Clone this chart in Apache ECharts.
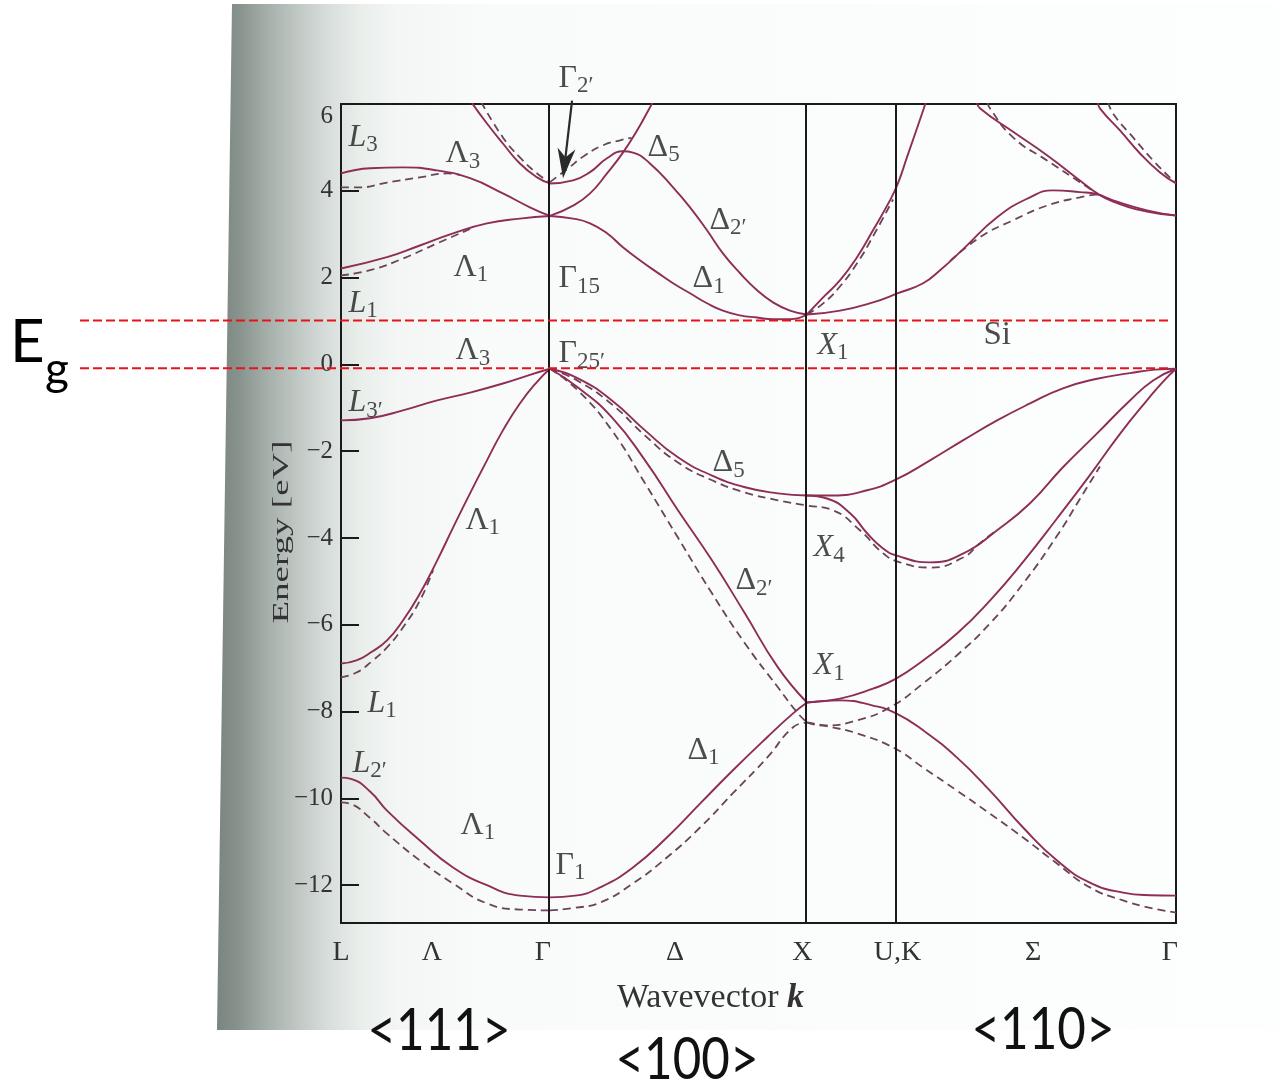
<!DOCTYPE html>
<html><head><meta charset="utf-8">
<script src="https://cdn.jsdelivr.net/npm/echarts@6/dist/echarts.min.js"></script>
<style>html,body{margin:0;padding:0;background:#fff}#c{width:1278px;height:1090px}</style>
</head><body><div id="c"></div>
<script>
// ---- k-path (units of 2π/a along the path) ----
const kNodeNames = ['L', 'Γ', 'X', 'U,K', 'Γ'];
const kNodes = [0, 0.813, 1.813, 2.160, 3.249];
const kTickNames = ['L', 'Λ', 'Γ', 'Δ', 'X', 'U,K', 'Σ', 'Γ'];
const kTickPos = [0, 0.354, 0.785, 1.300, 1.795, 2.165, 2.693, 3.225];
// ---- energy axis (eV) ----
const eTicks = [-12, -10, -8, -6, -4, -2, 0, 2, 4, 6];
const eRange = [-12.87, 6];
const gapEdges = [1.01, -0.09];           // conduction-band min / valence-band max lines (Eg)
const directionLabels = ['<111>', '<100>', '<110>'];

// ---- solid bands: valence ----
const vLow_LG  = [[0,-9.52],[0.039,-9.55],[0.113,-9.84],[0.179,-10.28],[0.307,-10.97],[0.436,-11.59],[0.568,-12.00],[0.696,-12.24],[0.813,-12.28]];
const vLow_GX  = [[0.813,-12.28],[0.911,-12.24],[1.008,-12.05],[1.136,-11.59],[1.268,-10.90],[1.397,-10.12],[1.525,-9.35],[1.658,-8.59],[1.759,-8.04],[1.813,-7.79]];
const vLow_XG  = [[1.813,-7.79],[1.942,-7.74],[2.070,-7.86],[2.160,-8.04],[2.265,-8.43],[2.397,-9.06],[2.525,-9.82],[2.654,-10.67],[2.786,-11.43],[2.914,-11.94],[3.043,-12.17],[3.148,-12.23],[3.249,-12.24]];
const vX1up_XG = [[1.813,-7.79],[1.942,-7.70],[2.070,-7.47],[2.160,-7.24],[2.265,-6.82],[2.397,-6.20],[2.525,-5.44],[2.654,-4.55],[2.786,-3.55],[2.914,-2.55],[3.031,-1.60],[3.140,-0.80],[3.198,-0.40],[3.249,-0.10]];
const vL1_LG   = [[0,-6.89],[0.06,-6.82],[0.12,-6.62],[0.179,-6.36],[0.241,-5.90],[0.307,-5.28],[0.374,-4.52],[0.436,-3.76],[0.502,-2.97],[0.568,-2.21],[0.630,-1.52],[0.696,-0.90],[0.763,-0.40],[0.813,-0.10]];
const vL3_LG   = [[0,-1.29],[0.113,-1.24],[0.241,-1.06],[0.374,-0.83],[0.502,-0.65],[0.630,-0.44],[0.735,-0.24],[0.813,-0.10]];
const vD5_GX   = [[0.813,-0.10],[0.922,-0.32],[1.054,-0.83],[1.183,-1.52],[1.311,-2.14],[1.444,-2.56],[1.572,-2.83],[1.700,-2.97],[1.813,-3.02]];
const vD2_GX   = [[0.813,-0.10],[0.922,-0.53],[1.054,-1.22],[1.183,-2.21],[1.311,-3.36],[1.444,-4.52],[1.572,-5.74],[1.700,-6.98],[1.813,-7.79]];
const vX4up_XG = [[1.813,-3.02],[1.914,-3.02],[2.047,-2.90],[2.160,-2.65],[2.292,-2.21],[2.420,-1.75],[2.553,-1.29],[2.681,-0.90],[2.809,-0.55],[2.942,-0.33],[3.070,-0.20],[3.167,-0.12],[3.249,-0.10]];
const vX4lo_XG = [[1.813,-3.02],[1.891,-3.09],[1.981,-3.43],[2.047,-3.89],[2.109,-4.24],[2.160,-4.40],[2.292,-4.56],[2.420,-4.36],[2.553,-3.82],[2.681,-3.20],[2.809,-2.37],[2.942,-1.59],[3.070,-0.83],[3.160,-0.37],[3.249,-0.10]];
// ---- solid bands: conduction ----
const cL1_LG   = [[0,2.21],[0.179,2.47],[0.307,2.74],[0.436,3.02],[0.568,3.25],[0.696,3.36],[0.813,3.42]];
const cL3_LG   = [[0,4.40],[0.113,4.52],[0.241,4.54],[0.374,4.47],[0.502,4.29],[0.630,3.94],[0.735,3.62],[0.813,3.42]];
const cTop_LG  = [[0.51,6.02],[0.568,5.55],[0.630,5.09],[0.696,4.63],[0.763,4.31],[0.813,4.17]];
const cD2_GX   = [[0.813,4.17],[0.903,4.24],[0.969,4.43],[1.035,4.75],[1.097,4.91],[1.136,4.88],[1.202,4.63],[1.292,4.08],[1.358,3.62],[1.424,3.09],[1.486,2.56],[1.553,2.10],[1.619,1.71],[1.681,1.43],[1.747,1.24],[1.813,1.15]];
const cD5_GX   = [[0.813,3.42],[0.903,3.66],[0.969,3.94],[1.035,4.40],[1.097,4.88],[1.152,5.39],[1.202,5.92],[1.214,6.05]];
const cD1_GX   = [[0.813,3.42],[0.903,3.36],[0.969,3.25],[1.035,3.02],[1.097,2.70],[1.163,2.40],[1.230,2.12],[1.292,1.87],[1.358,1.64],[1.424,1.41],[1.486,1.24],[1.553,1.13],[1.619,1.08],[1.681,1.04],[1.747,1.04],[1.813,1.15]];
const cSteep_XG= [[1.813,1.15],[1.875,1.54],[1.942,1.94],[2.008,2.47],[2.070,3.09],[2.136,3.78],[2.167,4.17],[2.202,4.77],[2.265,5.85],[2.276,6.05]];
const cHump_XG = [[1.813,1.15],[1.942,1.24],[2.070,1.43],[2.167,1.64],[2.265,1.87],[2.331,2.17],[2.420,2.65],[2.553,3.39],[2.681,3.85],[2.770,4.01],[2.875,3.97],[2.942,3.92],[3.004,3.78],[3.136,3.55],[3.249,3.43]];
const cDesc_XG = [[2.475,6.05],[2.486,5.90],[2.615,5.36],[2.747,4.82],[2.875,4.24],[2.942,3.94],[3.004,3.75],[3.136,3.52],[3.249,3.43]];
const cTop_XG  = [[2.945,6.05],[2.953,5.90],[3.031,5.39],[3.109,4.86],[3.187,4.42],[3.249,4.17]];

// ---- dashed bands (second calculation) ----
const aLow_LG  = [[0,-10.09],[0.039,-10.13],[0.113,-10.45],[0.179,-10.81],[0.307,-11.43],[0.436,-11.96],[0.568,-12.42],[0.696,-12.56],[0.813,-12.58]];
const aLow_GX  = [[0.813,-12.58],[0.911,-12.52],[1.008,-12.40],[1.136,-11.96],[1.268,-11.36],[1.397,-10.67],[1.525,-9.88],[1.658,-9.06],[1.759,-8.36],[1.813,-8.25]];
const aUp_XG   = [[1.813,-8.25],[1.875,-8.32],[2.008,-8.20],[2.136,-7.90],[2.265,-7.35],[2.397,-6.70],[2.525,-5.97],[2.654,-5.05],[2.786,-3.95],[2.875,-3.10],[2.953,-2.35]];
const aLo_XG   = [[1.813,-8.25],[1.903,-8.35],[2.008,-8.50],[2.156,-8.85],[2.265,-9.29],[2.397,-9.82],[2.525,-10.35],[2.654,-10.90],[2.786,-11.50],[2.914,-12.05],[3.043,-12.35],[3.148,-12.52],[3.249,-12.63]];
const aD2_GX   = [[0.813,-0.10],[0.922,-0.60],[1.054,-1.52],[1.183,-2.74],[1.311,-3.99],[1.444,-5.28],[1.572,-6.43],[1.700,-7.44],[1.778,-8.04],[1.813,-8.25]];
const aD5X4    = [[0.813,-0.10],[0.922,-0.38],[1.054,-0.92],[1.183,-1.64],[1.311,-2.26],[1.444,-2.67],[1.572,-2.95],[1.700,-3.13],[1.813,-3.25],[1.914,-3.36],[2.019,-3.82],[2.109,-4.35],[2.175,-4.56],[2.292,-4.68],[2.420,-4.45],[2.486,-4.12],[2.545,-3.85]];
const aL1_LG   = [[0,-7.21],[0.06,-7.10],[0.12,-6.84],[0.179,-6.52],[0.241,-6.06],[0.307,-5.44],[0.358,-4.74]];
const aCL1_LG  = [[0,2.05],[0.113,2.17],[0.241,2.44],[0.374,2.79],[0.502,3.12]];
const aCL3_LG  = [[0,4.08],[0.074,4.08],[0.179,4.19],[0.307,4.31],[0.412,4.40],[0.463,4.36]];
const aTop_LG  = [[0.545,6.05],[0.630,5.23],[0.696,4.77],[0.763,4.40],[0.813,4.20]];
const aTop_GX  = [[0.813,4.20],[0.880,4.50],[0.950,4.82],[1.020,5.05],[1.090,5.17],[1.130,5.22]];
const aSteep_XG= [[1.813,1.15],[1.875,1.40],[1.942,1.80],[2.008,2.33],[2.070,2.95],[2.148,3.80]];
const aHump_XG = [[2.370,2.38],[2.486,2.93],[2.615,3.32],[2.747,3.66],[2.875,3.85],[2.942,3.92]];
const aDesc_XG = [[2.515,6.05],[2.525,5.90],[2.615,5.23],[2.747,4.70],[2.875,4.20],[2.942,3.94]];
const aTop_XG  = [[2.985,6.05],[3.004,5.78],[3.082,5.23],[3.160,4.70],[3.237,4.24],[3.249,4.20]];

const solidBands = [vLow_LG, vLow_GX, vLow_XG, vX1up_XG, vL1_LG, vL3_LG, vD5_GX, vD2_GX, vX4up_XG, vX4lo_XG,
  cL1_LG, cL3_LG, cTop_LG, cD2_GX, cD5_GX, cD1_GX, cSteep_XG, cHump_XG, cDesc_XG, cTop_XG];
const dashedBands = [aLow_LG, aLow_GX, aUp_XG, aLo_XG, aD2_GX, aD5X4, aL1_LG, aCL1_LG, aCL3_LG, aTop_LG, aTop_GX,
  aSteep_XG, aHump_XG, aDesc_XG, aTop_XG];

// ---- state labels: [k, E, style, symbol, subscript] ----
const bandLabels = [
  [0.027, 5.23, 'i', 'L', '3'], [0.405, 4.86, 'g', 'Λ', '3'], [0.844, 6.59, 'g', 'Γ', '2′'],
  [1.191, 5.00, 'g', 'Δ', '5'], [1.432, 3.32, 'g', 'Δ', '2′'], [0.436, 2.24, 'g', 'Λ', '1'],
  [0.844, 1.98, 'g', 'Γ', '15'], [1.366, 1.98, 'g', 'Δ', '1'], [0.027, 1.41, 'i', 'L', '1'],
  [1.852, 0.44, 'i', 'X', '1'], [0.444, 0.32, 'g', 'Λ', '3'], [0.844, 0.25, 'g', 'Γ', '25′'],
  [0.027, -0.88, 'i', 'L', '3′'], [1.444, -2.26, 'g', 'Δ', '5'], [0.482, -3.59, 'g', 'Λ', '1'],
  [1.837, -4.22, 'i', 'X', '4'], [1.533, -4.98, 'g', 'Δ', '2′'], [1.837, -6.94, 'i', 'X', '1'],
  [0.101, -7.81, 'i', 'L', '1'], [1.346, -8.89, 'g', 'Δ', '1'], [0.043, -9.19, 'i', 'L', '2′'],
  [0.463, -10.62, 'g', 'Λ', '1'], [0.833, -11.54, 'g', 'Γ', '1']
];
const materialLabel = [2.498, 0.67, 'Si'];
const arrowFrom = [0.899, 6.08], arrowTo = [0.864, 4.29];

const SOLID = '#8e2d56', DASH = '#6a4457', INK = '#1f1f1f', SERIF = 'Liberation Serif';

function band(data, dashed) {
  return {
    type: 'line', data: data, showSymbol: false, symbol: 'none', smooth: 0.5,
    silent: true, clip: true, z: dashed ? 3 : 4,
    lineStyle: { color: dashed ? DASH : SOLID, width: dashed ? 1.8 : 1.9, type: dashed ? [8, 5] : 'solid' }
  };
}
const series = [];
solidBands.forEach(d => series.push(band(d, false)));
dashedBands.forEach(d => series.push(band(d, true)));
series[0].markLine = {
  silent: true, symbol: ['none', 'none'], label: { show: false }, animation: false,
  lineStyle: { color: '#1a1a1a', width: 2, type: 'solid' },
  data: kNodes.slice(1, 4).map(k => ({ xAxis: k }))
};
const rich = {
  g: { fontFamily: SERIF, fontSize: 32, lineHeight: 32, color: INK },
  i: { fontFamily: SERIF, fontSize: 32, lineHeight: 32, fontStyle: 'italic', color: INK },
  s: { fontFamily: SERIF, fontSize: 23, lineHeight: 23, padding: [16, 0, 0, 0], color: INK },
  r: { fontFamily: SERIF, fontSize: 33, lineHeight: 37, color: INK }
};
const labelData = bandLabels.map(l => ({
  value: [l[0], l[1]], label: { formatter: '{' + l[2] + '|' + l[3] + '}{s|' + l[4] + '}' }
}));
labelData.push({ value: [materialLabel[0], materialLabel[1]], label: { formatter: '{r|' + materialLabel[2] + '}' } });
series.push({
  type: 'scatter', data: labelData, symbol: 'circle', symbolSize: 1, clip: false, silent: true, z: 6,
  itemStyle: { color: 'rgba(0,0,0,0)' },
  label: { show: true, position: 'right', distance: 0, rich: rich }
});

const option = {
  animation: false,
  backgroundColor: '#ffffff',
  grid: { left: 341, right: 102, top: 104, bottom: 167, show: true, borderColor: '#1a1a1a', borderWidth: 2, backgroundColor: 'transparent' },
  xAxis: {
    type: 'value', min: kNodes[0], max: kNodes[4],
    axisLine: { show: false }, axisTick: { show: false }, splitLine: { show: false },
    axisLabel: {
      customValues: kTickPos, margin: 16, fontFamily: SERIF, fontSize: 28, color: '#333',
      formatter: function (v) {
        let best = 0;
        kTickPos.forEach((p, i) => { if (Math.abs(p - v) < Math.abs(kTickPos[best] - v)) best = i; });
        return kTickNames[best];
      }
    },
    name: '{a|Wavevector }{b|k}', nameLocation: 'middle', nameGap: 58,
    nameTextStyle: {
      padding: [0, 96, 0, 0],
      rich: {
        a: { fontFamily: SERIF, fontSize: 34, color: '#333' },
        b: { fontFamily: SERIF, fontSize: 34, fontStyle: 'italic', fontWeight: 'bold', color: '#333' }
      }
    }
  },
  yAxis: {
    type: 'value', min: eRange[0], max: eRange[1],
    axisLine: { show: false }, splitLine: { show: false },
    axisTick: { show: true, inside: true, length: 18, customValues: eTicks, lineStyle: { color: '#1a1a1a', width: 2 } },
    axisLabel: {
      customValues: eTicks, margin: 8, fontFamily: SERIF, fontSize: 25, color: '#333',
      verticalAlignMaxLabel: 'top',
      formatter: v => (v < 0 ? '\u2212' + Math.abs(v) : String(v))
    }
  },
  series: series
};

const chart = echarts.init(document.getElementById('c'), null, { renderer: 'canvas' });
chart.setOption(option);

const px = (k, e) => chart.convertToPixel({ gridIndex: 0 }, [k, e]);
const graphics = [];
// page with book gutter shading
graphics.push({
  type: 'polygon', z: -100, silent: true,
  shape: { points: [[232, 4], [1278, 4], [1278, 1030], [217, 1030]] },
  style: {
    fill: new echarts.graphic.LinearGradient(0, 0, 1, 0, [
      { offset: 0, color: '#7a8580' }, { offset: 0.02, color: '#87928d' }, { offset: 0.045, color: '#a3ada8' },
      { offset: 0.075, color: '#bfc7c3' }, { offset: 0.105, color: '#d8dedb' }, { offset: 0.135, color: '#e9eeeb' },
      { offset: 0.17, color: '#f3f6f4' }, { offset: 0.25, color: '#f9fbfa' }, { offset: 1, color: '#fdfefe' }
    ])
  }
});
// y axis title
graphics.push({
  type: 'text', x: 282, y: 532, rotation: Math.PI / 2, scaleY: 0.64, z: 50, silent: true,
  style: { text: 'Energy [eV]', font: '37px "Liberation Serif"', fill: '#333', align: 'center', verticalAlign: 'middle', textAlign: 'center', textVerticalAlign: 'middle' }
});
// Eg lines
gapEdges.forEach(e => {
  const y = px(0, e)[1];
  graphics.push({ type: 'line', z: 100, silent: true, shape: { x1: 80, y1: y, x2: 1170, y2: y },
    style: { stroke: '#e8121a', lineWidth: 2, lineDash: [9, 4] } });
});
graphics.push({ type: 'text', x: 10, y: 343, z: 100, silent: true,
  style: { text: 'E', font: '60px Lato', fill: '#000', align: 'left', verticalAlign: 'middle', textAlign: 'left', textVerticalAlign: 'middle' } });
graphics.push({ type: 'text', x: 45, y: 370, z: 100, silent: true,
  style: { text: 'g', font: '46px Lato', fill: '#000', align: 'left', verticalAlign: 'middle', textAlign: 'left', textVerticalAlign: 'middle' } });
// direction labels
const dirPos = [[439, 1031], [687, 1060], [1043, 1030]];
directionLabels.forEach((t, i) => {
  graphics.push({ type: 'text', x: dirPos[i][0], y: dirPos[i][1], scaleX: 0.85, z: 100, silent: true,
    style: { text: t, font: '58px Lato', fill: '#111', align: 'center', verticalAlign: 'middle', textAlign: 'center', textVerticalAlign: 'middle' } });
});
// arrow to Γ2'
(function () {
  const p0 = px(arrowFrom[0], arrowFrom[1]), p1 = px(arrowTo[0], arrowTo[1]);
  const dx = p1[0] - p0[0], dy = p1[1] - p0[1], L = Math.hypot(dx, dy);
  const ux = dx / L, uy = dy / L, nx = -uy, ny = ux;
  const base = [p1[0] - ux * 30, p1[1] - uy * 30];
  const notch = [p1[0] - ux * 21, p1[1] - uy * 21];
  graphics.push({ type: 'line', z: 60, silent: true, shape: { x1: p0[0], y1: p0[1], x2: notch[0], y2: notch[1] },
    style: { stroke: '#2a2a2a', lineWidth: 2.2 } });
  graphics.push({ type: 'polygon', z: 60, silent: true,
    shape: { points: [[base[0] + nx * 9, base[1] + ny * 9], p1, [base[0] - nx * 9, base[1] - ny * 9], notch] },
    style: { fill: '#2a2a2a' } });
})();
chart.setOption({ graphic: graphics });
</script>
</body></html>
